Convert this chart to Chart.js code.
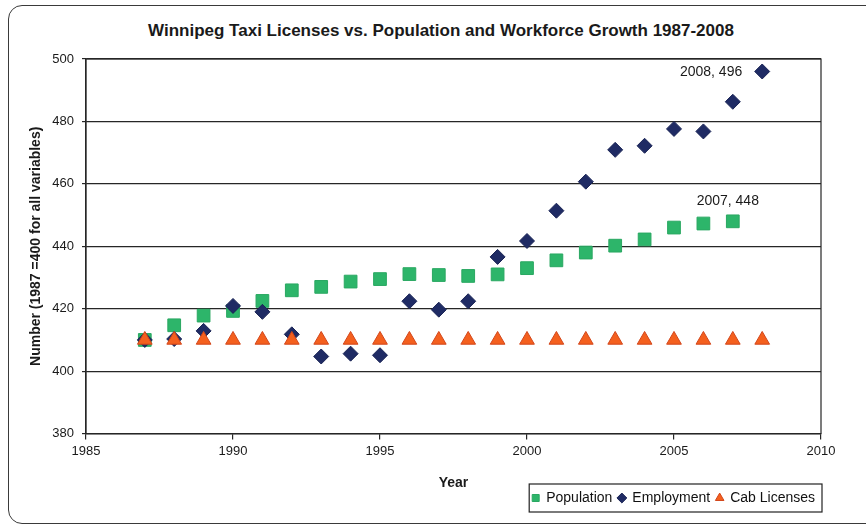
<!DOCTYPE html>
<html>
<head>
<meta charset="utf-8">
<script src="https://cdn.jsdelivr.net/npm/chart.js@4"></script>
<style>
    html, body { margin: 0; padding: 0; background: #fff; }
    body { width: 866px; height: 529px; position: relative; overflow: hidden; font-family: "Liberation Sans", Arial, sans-serif; }
    .frame { position: absolute; left: 8px; top: 5px; width: 900px; height: 519px; border: 1.5px solid #3a3a3a; border-radius: 14px; box-sizing: border-box; }
    .chart-title { position: absolute; left: 0; top: 21px; width: 882px; text-align: center; font-weight: bold; font-size: 17px; color: #1a1a1a; }
    #wrap { position: absolute; left: 0; top: 0; width: 866px; height: 529px; }
</style>
</head>
<body>
<div class="frame"></div>
<div class="chart-title">Winnipeg Taxi Licenses vs. Population and Workforce Growth 1987-2008</div>
<div id="wrap"><canvas id="taxiChart"></canvas></div>
<script>
// values (1987 = 400 index)
const years = [1987, 1988, 1989, 1990, 1991, 1992, 1993, 1994, 1995, 1996, 1997,
               1998, 1999, 2000, 2001, 2002, 2003, 2004, 2005, 2006, 2007, 2008];
const population = [410, 414.7, 417.8, 419.3, 422.5, 425.9, 427, 428.7, 429.5, 431.1, 430.8,
                    430.5, 431, 433, 435.5, 438, 440.2, 442.2, 446, 447.3, 448, null];
const employment = [410, 410.3, 412.9, 420.9, 419, 411.8, 404.7, 405.6, 405.1, 422.4, 419.7,
                    422.4, 436.6, 441.7, 451.4, 460.7, 470.9, 472.2, 477.6, 476.8, 486.3, 496];
const cabLicenses = [410, 410, 410, 410, 410, 410, 410, 410, 410, 410, 410,
                     410, 410, 410, 410, 410, 410, 410, 410, 410, 410, 410];
const yTicks = [380, 400, 420, 440, 460, 480, 500];
const xTicks = [1985, 1990, 1995, 2000, 2005, 2010];

function toPoints(values) {
    return years.map((yr, i) => ({ x: yr, y: values[i] })).filter(p => p.y !== null);
}

// box around the plot area (right edge has no grid line of its own)
const plotBorder = {
    id: 'plotBorder',
    beforeDatasetsDraw(chart) {
        const a = chart.chartArea;
        const ctx = chart.ctx;
        ctx.save();
        ctx.strokeStyle = '#262626';
        ctx.lineWidth = 1.2;
        ctx.strokeRect(a.left, a.top, a.right - a.left, a.bottom - a.top);
        ctx.restore();
    }
};

// "year, value" labels next to the last points
const pointLabels = {
    id: 'pointLabels',
    afterDatasetsDraw(chart) {
        const ctx = chart.ctx;
        const xs = chart.scales.x, ys = chart.scales.y;
        ctx.save();
        ctx.font = '14px "Liberation Sans", Arial, sans-serif';
        ctx.fillStyle = '#1a1a1a';
        ctx.textBaseline = 'middle';

        let i = years.indexOf(2008);
        ctx.textAlign = 'right';
        ctx.fillText(years[i] + ', ' + employment[i], xs.getPixelForValue(years[i]) - 20, ys.getPixelForValue(employment[i]) + 1);

        i = years.indexOf(2007);
        ctx.textAlign = 'center';
        ctx.fillText(years[i] + ', ' + population[i], xs.getPixelForValue(years[i]) - 5, ys.getPixelForValue(population[i]) - 20);
        ctx.restore();
    }
};

// legend with a border round it
const legendBox = {
    id: 'legendBox',
    afterDraw(chart) {
        const boxes = chart.legend.legendHitBoxes;
        if (!boxes || !boxes.length) return;
        const left = Math.min(...boxes.map(b => b.left));
        const right = Math.max(...boxes.map(b => b.left + b.width));
        const top = Math.min(...boxes.map(b => b.top));
        const bottom = Math.max(...boxes.map(b => b.top + b.height));
        const mid = (top + bottom) / 2;
        const ctx = chart.ctx;
        ctx.save();
        ctx.strokeStyle = '#222';
        ctx.lineWidth = 1.2;
        ctx.strokeRect(left - 3, mid - 14, right - left + 10, 28);
        ctx.restore();
    }
};

const data = {
    datasets: [
        {
            label: 'Population',
            data: toPoints(population),
            pointStyle: 'rect',
            pointRadius: 9,
            pointHoverRadius: 9,
            backgroundColor: '#2db56a',
            borderColor: '#2aa862',
            borderWidth: 1,
            showLine: false,
            order: 3
        },
        {
            label: 'Employment',
            data: toPoints(employment),
            pointStyle: 'rectRot',
            pointRadius: 7.5,
            pointHoverRadius: 7.5,
            backgroundColor: '#1f2b64',
            borderColor: '#1a2455',
            borderWidth: 1,
            showLine: false,
            order: 2
        },
        {
            label: 'Cab Licenses',
            data: toPoints(cabLicenses),
            pointStyle: 'triangle',
            pointRadius: 8.5,
            pointHoverRadius: 8.5,
            backgroundColor: '#f4601e',
            borderColor: '#d2451a',
            borderWidth: 1,
            showLine: false,
            order: 1
        }
    ]
};

const axisFont = { family: '"Liberation Sans", Arial, sans-serif', size: 13 };
const titleFont = { family: '"Liberation Sans", Arial, sans-serif', size: 14, weight: 'bold' };

const config = {
    type: 'scatter',
    data: data,
    options: {
        responsive: true,
        maintainAspectRatio: false,
        animation: false,
        layout: { padding: { top: 59, left: 28, right: 45, bottom: 14 } },
        scales: {
            x: {
                type: 'linear',
                min: 1985,
                max: 2010,
                afterBuildTicks: axis => { axis.ticks = xTicks.map(v => ({ value: v })); },
                ticks: { color: '#1a1a1a', font: axisFont, padding: 4, callback: v => String(v) },
                grid: { drawOnChartArea: false, drawTicks: true, tickLength: 6, color: '#262626', lineWidth: 1.2 },
                border: { color: '#262626', width: 1.2 },
                title: { display: true, text: 'Year', color: '#1a1a1a', font: titleFont, padding: { top: 12, bottom: -7 } }
            },
            y: {
                min: 380,
                max: 500,
                afterBuildTicks: axis => { axis.ticks = yTicks.map(v => ({ value: v })); },
                afterFit: axis => { axis.width = 58; },
                ticks: { color: '#1a1a1a', font: axisFont, padding: 8 },
                grid: { color: '#262626', lineWidth: 1.2, tickLength: 4 },
                border: { color: '#262626', width: 1.2 },
                title: { display: true, text: 'Number (1987 =400 for all variables)', color: '#1a1a1a', font: titleFont, padding: { top: 0, bottom: 4 } }
            }
        },
        plugins: {
            title: { display: false },
            tooltip: { enabled: false },
            legend: {
                position: 'bottom',
                align: 'end',
                labels: {
                    usePointStyle: true,
                    boxWidth: 7,
                    boxHeight: 7,
                    padding: 6,
                    color: '#111',
                    font: { family: '"Liberation Sans", Arial, sans-serif', size: 14 },
                    sort: (a, b) => a.datasetIndex - b.datasetIndex
                }
            }
        }
    },
    plugins: [plotBorder, pointLabels, legendBox]
};

document.addEventListener("DOMContentLoaded", function () {
    const ctx = document.getElementById('taxiChart').getContext('2d');
    new Chart(ctx, config);
});
</script>
</body>
</html>
